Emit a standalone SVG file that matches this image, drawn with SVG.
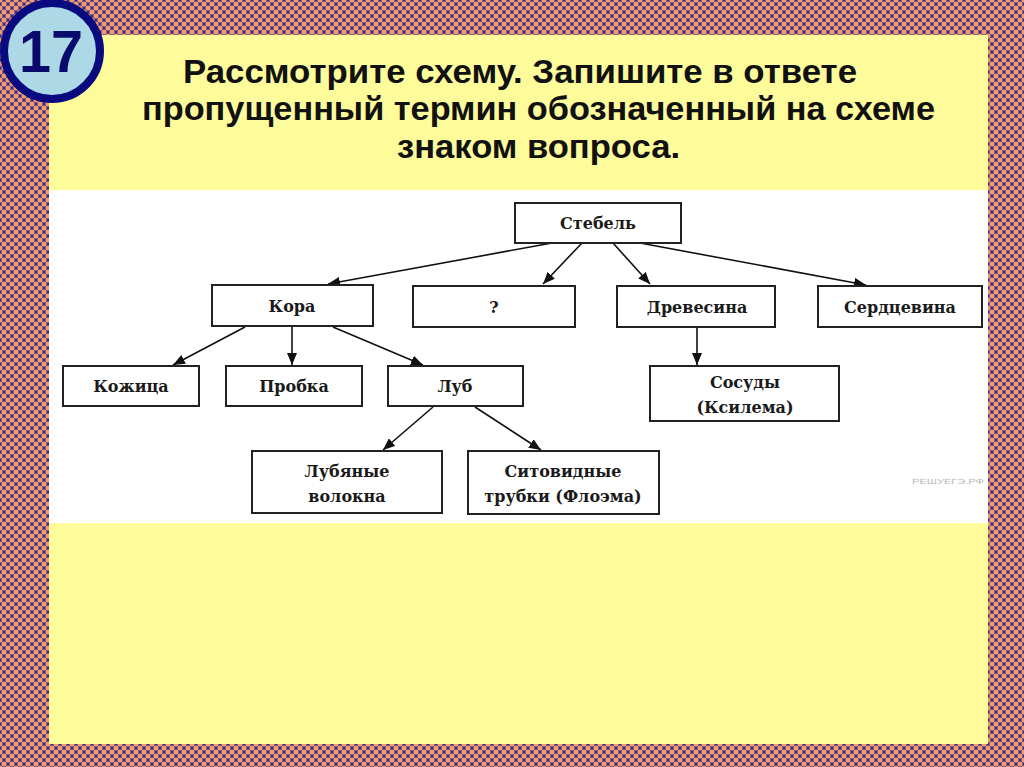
<svg xmlns="http://www.w3.org/2000/svg" width="1024" height="767" viewBox="0 0 1024 767">
<defs>
<pattern id="dots" x="0" y="0" width="8" height="8" patternUnits="userSpaceOnUse">
<rect width="8" height="8" fill="#6a4a80"/>
<circle cx="4" cy="0" r="2.8" fill="#2c2a90"/>
<circle cx="0" cy="4" r="2.8" fill="#2c2a90"/>
<circle cx="8" cy="4" r="2.8" fill="#2c2a90"/>
<circle cx="4" cy="8" r="2.8" fill="#2c2a90"/>
<circle cx="0" cy="0" r="2.6" fill="#f49a6a"/>
<circle cx="8" cy="0" r="2.6" fill="#f49a6a"/>
<circle cx="0" cy="8" r="2.6" fill="#f49a6a"/>
<circle cx="8" cy="8" r="2.6" fill="#f49a6a"/>
<circle cx="4" cy="4" r="2.6" fill="#f49a6a"/>
</pattern>
<marker id="ah" viewBox="0 0 12 10" refX="12" refY="5" markerWidth="12" markerHeight="10" markerUnits="userSpaceOnUse" orient="auto">
<path d="M0,0 L12,5 L0,10 Z" fill="#111"/>
</marker>
</defs>
<style>
.box{fill:#fff;stroke:#222;stroke-width:2}
.lbl{font-family:"DejaVu Serif","Liberation Serif",serif;font-weight:bold;font-size:16px;fill:#1a1a1a;text-anchor:middle}
.ttl{font-family:"Liberation Sans Narrow","Liberation Sans",Arial,sans-serif;font-weight:bold;font-size:34px;fill:#111}
.cn{stroke:#111;stroke-width:1.6;fill:none;marker-end:url(#ah)}
</style>
<rect width="1024" height="767" fill="url(#dots)"/>
<rect x="49" y="35" width="939" height="709" fill="#fefb9b"/>
<rect x="49" y="190" width="939" height="333" fill="#ffffff"/>
<g id="badge">
<circle cx="52" cy="51" r="48" fill="#add8e6" stroke="#0a0a80" stroke-width="8"/>
<text x="51" y="72" font-family="Liberation Sans, Arial, sans-serif" font-weight="bold" font-size="60" fill="#0a0a6e" text-anchor="middle" textLength="64" lengthAdjust="spacingAndGlyphs">17</text>
</g>
<g id="title">
<text class="ttl" x="183" y="83" textLength="674" lengthAdjust="spacingAndGlyphs">Рассмотрите схему. Запишите в ответе</text>
<text class="ttl" x="142" y="120" textLength="793" lengthAdjust="spacingAndGlyphs">пропущенный термин обозначенный на схеме</text>
<text class="ttl" x="397" y="158" textLength="283" lengthAdjust="spacingAndGlyphs">знаком вопроса.</text>
</g>
<g id="connectors">
<line class="cn" x1="552" y1="243" x2="328" y2="284"/>
<line class="cn" x1="582" y1="243" x2="543" y2="284"/>
<line class="cn" x1="613" y1="243" x2="650" y2="284"/>
<line class="cn" x1="640" y1="243" x2="866" y2="285"/>
<line class="cn" x1="245" y1="327" x2="173" y2="365"/>
<line class="cn" x1="292" y1="327" x2="292" y2="365"/>
<line class="cn" x1="333" y1="327" x2="423" y2="365"/>
<line class="cn" x1="433" y1="407" x2="383" y2="450"/>
<line class="cn" x1="475" y1="407" x2="541" y2="450"/>
<line class="cn" x1="697" y1="327" x2="697" y2="365"/>
</g>
<g id="n-stebel"><rect class="box" x="515" y="203" width="166" height="40"/><text class="lbl" x="598" y="229">Стебель</text></g>
<g id="n-kora"><rect class="box" x="212" y="285" width="161" height="41"/><text class="lbl" x="292" y="312">Кора</text></g>
<g id="n-q"><rect class="box" x="413" y="286" width="162" height="41"/><text class="lbl" x="494" y="313">?</text></g>
<g id="n-drevesina"><rect class="box" x="617" y="286" width="158" height="41"/><text class="lbl" x="697" y="313">Древесина</text></g>
<g id="n-serdcevina"><rect class="box" x="818" y="286" width="164" height="41"/><text class="lbl" x="900" y="313">Сердцевина</text></g>
<g id="n-kozhica"><rect class="box" x="63" y="366" width="136" height="40"/><text class="lbl" x="131" y="392">Кожица</text></g>
<g id="n-probka"><rect class="box" x="226" y="366" width="136" height="40"/><text class="lbl" x="294" y="392">Пробка</text></g>
<g id="n-lub"><rect class="box" x="388" y="366" width="135" height="40"/><text class="lbl" x="455" y="392">Луб</text></g>
<g id="n-sosudy"><rect class="box" x="650" y="366" width="189" height="55"/><text class="lbl" x="745" y="388">Сосуды</text><text class="lbl" x="745" y="413">(Ксилема)</text></g>
<g id="n-lubyanye"><rect class="box" x="252" y="451" width="190" height="62"/><text class="lbl" x="347" y="477">Лубяные</text><text class="lbl" x="347" y="502">волокна</text></g>
<g id="n-sitovidnye"><rect class="box" x="468" y="451" width="191" height="63"/><text class="lbl" x="563" y="477">Ситовидные</text><text class="lbl" x="563" y="502">трубки (Флоэма)</text></g>
<text x="948" y="484" font-family="Liberation Sans, Arial, sans-serif" font-size="8" fill="#b8b8b8" text-anchor="middle" textLength="72" lengthAdjust="spacingAndGlyphs">РЕШУЕГЭ.РФ</text>
</svg>
